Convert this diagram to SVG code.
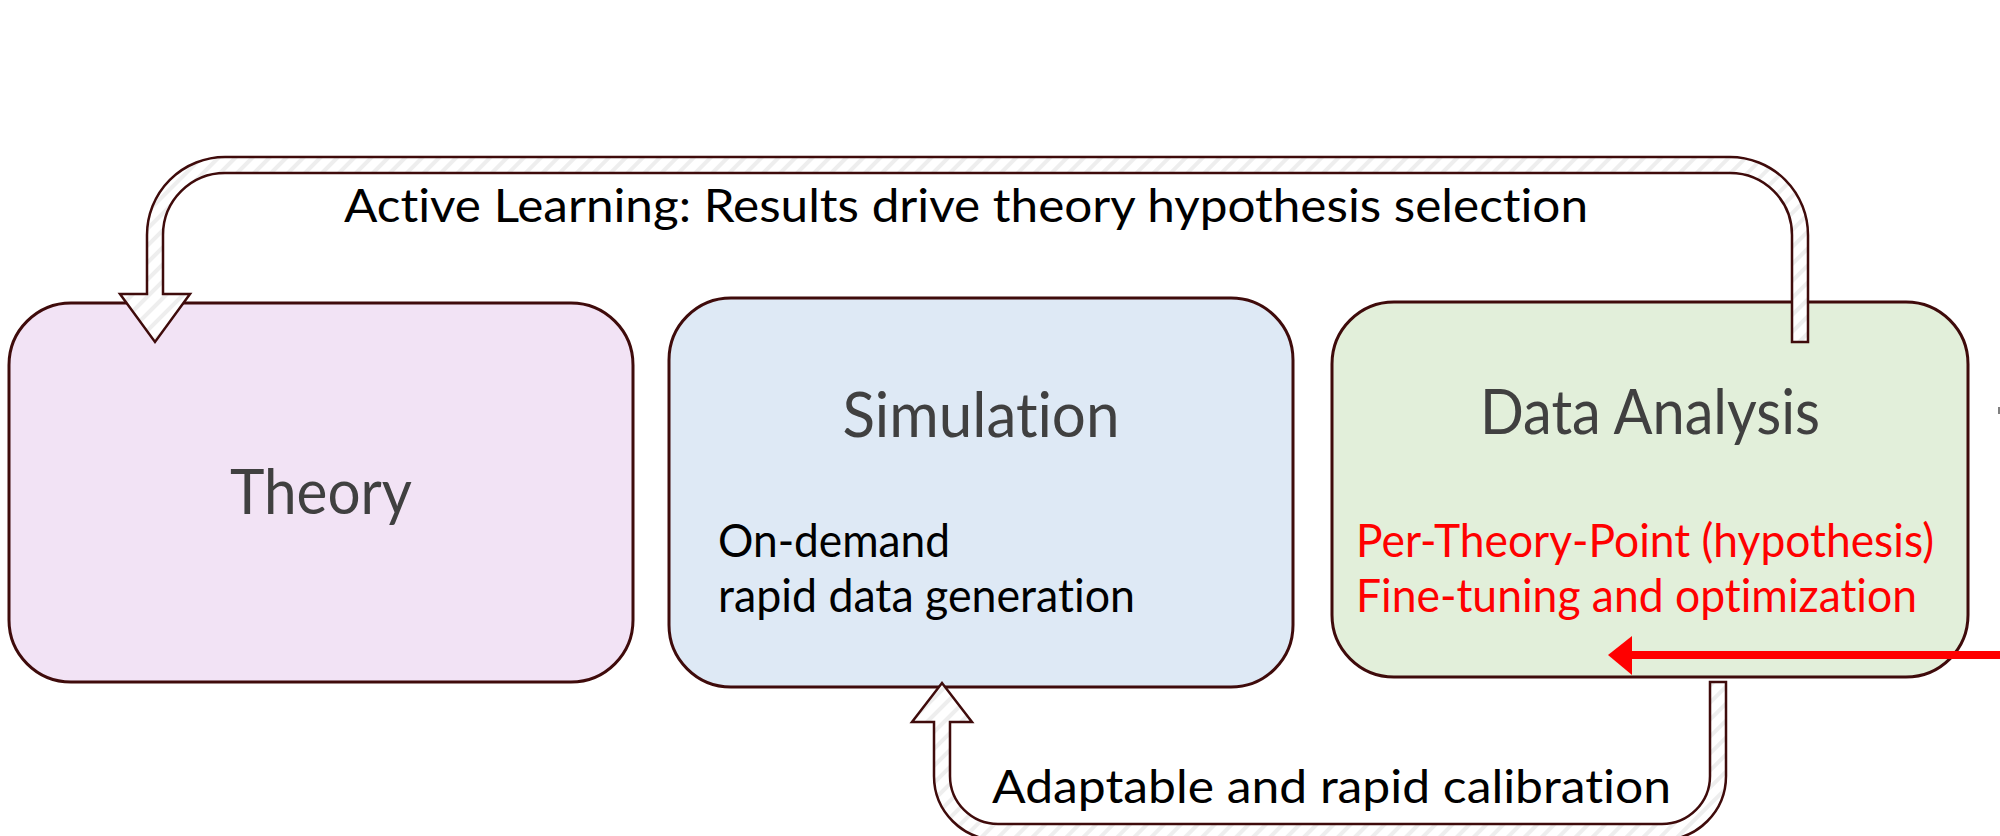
<svg xmlns="http://www.w3.org/2000/svg" width="2000" height="836" viewBox="0 0 2000 836">
  <defs>
    <pattern id="hatch" width="12" height="12" patternUnits="userSpaceOnUse" patternTransform="rotate(45)">
      <rect width="12" height="12" fill="#ffffff"/>
      <rect width="4" height="12" fill="#eeeeee"/>
    </pattern>
  </defs>
  <style>
    text { font-variant-ligatures: none; font-feature-settings: "liga" 0, "clig" 0, "dlig" 0; }
    .box { stroke: #3f0b0b; stroke-width: 3; }
    .title { font-family: Lato, "Liberation Sans", Arial, sans-serif; font-size: 62px; fill: #404040; text-anchor: middle; }
    .body { font-family: Lato, "Liberation Sans", Arial, sans-serif; font-size: 46px; fill: #000000; }
    .red { fill: #ff0000; }
    .band { fill: url(#hatch); stroke: #3f0b0b; stroke-width: 2.5; stroke-linejoin: miter; }
  </style>

  <g id="theory">
    <rect class="box" x="9" y="303" width="624" height="379" rx="62" ry="62" fill="#f2e3f5"/>
    <text class="title" x="321" y="514" textLength="182" lengthAdjust="spacingAndGlyphs">Theory</text>
  </g>

  <g id="simulation">
    <rect class="box" x="669" y="298" width="624" height="389" rx="62" ry="62" fill="#dee9f5"/>
    <text class="title" x="981" y="437" textLength="277" lengthAdjust="spacingAndGlyphs">Simulation</text>
    <text class="body" x="718" y="557" textLength="232" lengthAdjust="spacingAndGlyphs">On-demand</text>
    <text class="body" x="718" y="612" textLength="417" lengthAdjust="spacingAndGlyphs">rapid data generation</text>
  </g>

  <g id="data-analysis">
    <rect class="box" x="1332" y="302" width="636" height="375" rx="62" ry="62" fill="#e2efda"/>
    <text class="title" x="1650" y="434" textLength="340" lengthAdjust="spacingAndGlyphs">Data Analysis</text>
    <text class="body red" x="1356" y="557" textLength="578" lengthAdjust="spacingAndGlyphs">Per-Theory-Point (hypothesis)</text>
    <text class="body red" x="1356" y="612" textLength="561" lengthAdjust="spacingAndGlyphs">Fine-tuning and optimization</text>
  </g>

  <!-- clipped mark at the right edge -->
  <rect x="1998" y="407" width="2" height="7" fill="#808080"/>

  <g id="connectors">
    <!-- feedback loop: analysis results back to theory -->
    <path class="band" d="M 1792 342 L 1808 342 L 1808 235 A 78 78 0 0 0 1730 157 L 225 157 A 78 78 0 0 0 147 235 L 147 294 L 120 294 L 155 342 L 190 294 L 163 294 L 163 235 A 62 62 0 0 1 225 173 L 1730 173 A 62 62 0 0 1 1792 235 Z"/>
    <text class="body" x="344" y="222" textLength="1244" lengthAdjust="spacingAndGlyphs">Active Learning: Results drive theory hypothesis selection</text>

    <!-- calibration loop: analysis back to simulation -->
    <path class="band" d="M 1710 682 L 1726 682 L 1726 776 A 64 64 0 0 1 1662 840 L 998 840 A 64 64 0 0 1 934 776 L 934 722 L 912 722 L 942 683 L 972 722 L 950 722 L 950 776 A 48 48 0 0 0 998 824 L 1662 824 A 48 48 0 0 0 1710 776 Z"/>
    <text class="body" x="992" y="803" textLength="679" lengthAdjust="spacingAndGlyphs">Adaptable and rapid calibration</text>

    <!-- incoming red arrow -->
    <line x1="2000" y1="655" x2="1628" y2="655" stroke="#ff0000" stroke-width="8"/>
    <polygon points="1608,655 1632,636 1632,675" fill="#ff0000"/>
  </g>
</svg>
